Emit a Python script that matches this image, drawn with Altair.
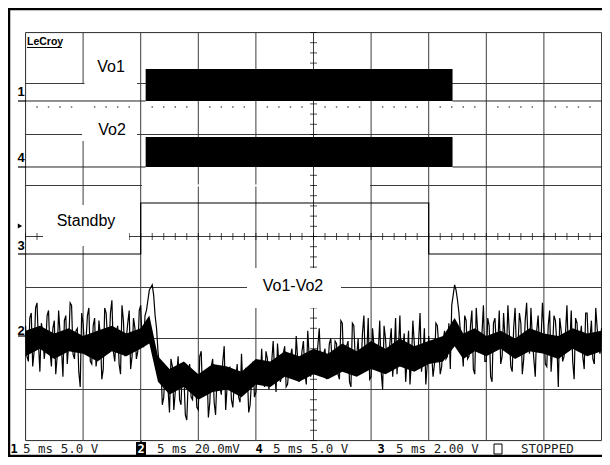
import altair as alt
import pandas as pd
import numpy as np

# ---------------- data ----------------
time_grid_ms = [-25, -20, -15, -10, -5, 0, 5, 10, 15, 20, 25]   # 5 ms/div
div_grid = [-4, -3, -2, -1, 0, 1, 2, 3, 4]

# channel: label, number, units/div, ground offset (div)
ch_label = ["Vo1", "Vo2", "Standby", "Vo1-Vo2"]
ch_number = ["1", "4", "3", "2"]
ch_per_div = [5.0, 5.0, 2.0, 20.0]
ch_offset = [2.657, 1.363, -0.343, -1.95]

# Vo1 / Vo2 switching burst
burst_start_ms = -14.57
burst_end_ms = 12.07
vo1_amp_v = 3.14
vo2_amp_v = 2.94

# Standby logic signal
standby_t = [-25, -15, -15, 10, 10, 25]
standby_v = [0.0, 0.0, 2.0, 2.0, 0.0, 0.0]

# Vo1-Vo2 (mV): samples at t = -25 + 0.25*i
diff_mv_a = [4, -10, 9, -6, 13, -14, 2, -4, 10, -12, 6, -8, 1, -16, 8, -3, 12, -9, 3, -20,
             5, -2, 11, -11, 7, -7, 0, -13, 9, -5, 14, -10, 4, -15, 6, -1, 10, -8, 3, -6,
             12, -4,
             10, 18, 20, 8, -6,
             -10, -24, -14, -30, -12, -22, -8, -27, -16, -33, -11, -25, -18, -29, -6, -21, -13,
             -26, -9, -31, -15, -23, -4, -20, -12, -28, -17, -24, -7, -19, -14, -27, -10, -22, -16,
             -5, -20, -9, -17, -2, -22, -11, -15, -4, -19, -8, -13, 0, -18, -6, -14, 2, -16, -9,
             -11, 3, -15, -5, -12, -1,
             -13, -3, -17, 5, -10, -2, -20, 4, -8, -14, 1, -11, 7, -16, -4, -9, 6, -21, -1, -12,
             3, -7, -15, 8, -5, -18, 2, -10, -3, -13, 9, -8, -19, 0, -6, -11, 4, -15, -2, -9, 5,
             12, 20, 14, 2,
             -12, 6, -8, 10, -15, 2, -5, 12, -10, 4, -18, 7, -3, -11, 9, -6, 1, -14, 11, -4, 5,
             -9, 13, -7, -1, -16, 8, -2, 3, -12, 10, -5, 6, -20, 2, -8, 12, -3, -10, 7, -6, 4,
             -13, 9, -1, -9, 11, -4, 3]
# Vo1-Vo2 (mV): samples at t = -24.875 + 0.25*j
diff_mv_b = [-8, 7, -12, 11, -3, 5, -9, 8, -6, 3, -15, 10, -5, 6, -11, 13, -7, 2, -14, 9,
             -4, 8, -10, 4, -12, 6, -17, 11, -2, 9, -6, 1, -11, 12, -8, 5, -13, 7, -9, 10,
             -3, 8,
             14, 19, 16, 3, -12,
             -27, -13, -21, -9, -29, -15, -25, -11, -31, -18, -24, -14, -28, -8, -23, -17, -32,
             -12, -26, -16, -20, -10, -29, -14, -25, -18, -11, -26, -21, -13, -30, -17, -24, -12, -19,
             -17, -6, -21, -10, -14, -3, -18, -7, -20, -12, -5, -16, -9, -13, -2, -19, -8, -10, -15,
             -4, -12, -7, -17, -3, -11,
             -2, -15, 6, -12, -4, -18, 5, -9, -1, -13, 8, -7, -17, 3, -11, -6, -14, 4, -10, -3,
             -16, 7, -5, -12, 1, -9, -19, 6, -8, -2, -14, 3, -11, -7, -16, 5, -4, -12, 2, -8, -13,
             16, 18, 9, -4,
             8, -9, 4, -13, 11, -6, 1, -10, 7, -16, 5, -4, 10, -8, -1, 12, -12, 3, -7, 9,
             -15, 6, -2, 11, -9, 2, -5, 13, -11, 4, -14, 8, -3, 7, -10, 1, -6, 10, -17, 5,
             -2, -8, 9, -5, 6, -11, 3, -7]

# dense (persistence) core of the Vo1-Vo2 trace, mV
core_t_ms = [-25, -23.75, -22.5, -21.25, -20, -18.75, -17.5, -16.25, -15, -14.25,
             -13.5, -12.5, -11.25, -10, -8.75, -7.5, -6.25, -5, -3.75, -2.5,
             -1.25, 0, 1.25, 2.5, 3.75, 5, 6.25, 7.5, 8.75, 10,
             11.25, 12.25, 13, 14, 15, 16.25, 17.5, 18.75, 20, 21.25,
             22.5, 23.75, 25]
core_lo_mv = [-8, -5, -9, -6, -7, -10, -6, -8, -5, -3,
              -18, -23, -20, -25, -22, -21, -24, -19, -20, -16,
              -18, -15, -17, -14, -16, -13, -15, -12, -14, -11,
              -10, -4, -9, -6, -8, -5, -9, -6, -7, -9,
              -5, -8, -6]
core_hi_mv = [2, 4, 1, 3, 0, 2, 4, 1, 3, 8,
              -8, -13, -10, -15, -11, -12, -14, -9, -10, -6,
              -8, -5, -7, -3, -6, -2, -5, -1, -4, -2,
              0, 7, 1, 3, 0, 2, -1, 3, 1, 0,
              3, 1, 2]

status_items = ["5 ms 5.0 V", "5 ms 20.0mV", "5 ms 5.0 V", "5 ms 2.00 V", "STOPPED"]

# ---------------- layout ----------------
PAD_L, PAD_T = 17.5, 24.5
W, H = 576, 408
OX, OY = 8 + PAD_L, 8 + PAD_T          # page position of plot origin


def px(x):
    return x - OX


def py(y):
    return y - OY


xs = alt.Scale(domain=[-25, 25], nice=False, zero=False)
ys = alt.Scale(domain=[-4, 4], nice=False, zero=False)


def X(f):
    return alt.X(f, type="quantitative", scale=xs, axis=None)


def Y(f):
    return alt.Y(f, type="quantitative", scale=ys, axis=None)


one = pd.DataFrame({"a": [0]})
GRID = "#3c3c3c"
SANS = "Liberation Sans"
MONO = "DejaVu Sans Mono"


def txt(s, x, y, size=16, weight="normal", font=SANS, color="black", align="center", baseline="middle"):
    return alt.Chart(one).mark_text(text=s, fontSize=size, fontWeight=weight, font=font, color=color,
                                    align=align, baseline=baseline).encode(x=alt.value(px(x)), y=alt.value(py(y)))


def box(x1, x2, y1, y2, fill="white", stroke=None):
    kw = dict(fill=fill)
    if stroke:
        kw.update(stroke=stroke, strokeWidth=1)
    return alt.Chart(one).mark_rect(**kw).encode(x=alt.value(px(x1)), x2=alt.value(px(x2)),
                                                 y=alt.value(py(y1)), y2=alt.value(py(y2)))


def hline(x1, x2, y, w=1, color="black"):
    return alt.Chart(one).mark_rule(color=color, strokeWidth=w).encode(
        x=alt.value(px(x1)), x2=alt.value(px(x2)), y=alt.value(py(y)))


def vline(x, y1, y2, w=1, color="black"):
    return alt.Chart(one).mark_rule(color=color, strokeWidth=w).encode(
        x=alt.value(px(x)), y=alt.value(py(y1)), y2=alt.value(py(y2)))


layers = []

# outer frame
layers += [vline(9, 8, 457, 2.5), hline(8, 602, 9, 2.5), hline(8, 602, 456, 2.5)]

# graticule
layers.append(alt.Chart(pd.DataFrame({"t": time_grid_ms})).mark_rule(color=GRID, strokeWidth=1).encode(x=X("t")))
layers.append(alt.Chart(pd.DataFrame({"d": div_grid})).mark_rule(color=GRID, strokeWidth=1).encode(y=Y("d")))
# part of the upper standby grid line that the screen leaves blank
layers += [hline(142, 312.5, 185.5, 2, "white"), hline(314.5, 370, 185.5, 2, "white")]

# center cross minor ticks
tk_y = pd.DataFrame({"d": np.round(np.arange(-4, 4.001, 0.2), 2), "c": 0})
tk_x = pd.DataFrame({"t": np.arange(-25, 25.001, 1.0), "c": 0})
layers.append(alt.Chart(tk_y).mark_tick(orient="horizontal", size=7, thickness=1, color="black").encode(x=X("c"), y=Y("d")))
layers.append(alt.Chart(tk_x).mark_tick(orient="vertical", size=7, thickness=1, color="black").encode(x=X("t"), y=Y("c")))

# label background boxes
layers += [box(84.5, 137, 50, 84), box(82, 137, 84, 141), box(43, 129, 205, 246), box(247, 341, 268, 308)]

# dotted reference row under channel 1
dots = pd.DataFrame({"t": [t for t in range(-24, 25) if t % 5 != 0]})
dots["d"] = 2.539
layers.append(alt.Chart(dots).mark_square(size=2, color="#555", opacity=1).encode(x=X("t"), y=Y("d")))

# channel 1 and 4: baselines and bursts
base_rows, burst_rows = [], []
for k, amp in [(0, vo1_amp_v), (1, vo2_amp_v)]:
    off = ch_offset[k]
    for seg, (a, b) in enumerate([(-25, burst_start_ms), (burst_end_ms, 25)]):
        base_rows += [{"t": a, "y": off, "s": f"{k}-{seg}"}, {"t": b, "y": off, "s": f"{k}-{seg}"}]
    burst_rows.append({"t0": burst_start_ms, "t1": burst_end_ms, "y0": off, "y1": off + amp / ch_per_div[k]})
layers.append(alt.Chart(pd.DataFrame(base_rows)).mark_line(color="#222", strokeWidth=1).encode(x=X("t"), y=Y("y"), detail="s:N"))
layers.append(alt.Chart(pd.DataFrame(burst_rows)).mark_rect(color="black").encode(x=X("t0"), x2="t1", y=Y("y0"), y2="y1"))

# channel 3: standby
sb = pd.DataFrame({"t": standby_t, "y": [ch_offset[2] + v / ch_per_div[2] for v in standby_v], "i": range(len(standby_t))})
layers.append(alt.Chart(sb).mark_line(color="black", strokeWidth=1.2).encode(x=X("t"), y=Y("y"), order="i:Q"))

# channel 2: Vo1-Vo2 persistence core + trace (two interleaved sample sets)
core = pd.DataFrame({"t": core_t_ms,
                     "lo": [ch_offset[3] + v / ch_per_div[3] for v in core_lo_mv],
                     "hi": [ch_offset[3] + v / ch_per_div[3] for v in core_hi_mv]})
layers.append(alt.Chart(core).mark_area(color="black", opacity=1).encode(x=X("t"), y=Y("lo"), y2="hi"))
vals = []
for i, a in enumerate(diff_mv_a):
    vals.append(a)
    if i < len(diff_mv_b):
        vals.append(diff_mv_b[i])
df2 = pd.DataFrame({"t": np.linspace(-25, 25, len(vals)),
                    "y": [ch_offset[3] + v / ch_per_div[3] for v in vals]})
layers.append(alt.Chart(df2).mark_line(color="black", strokeWidth=1.2).encode(x=X("t"), y=Y("y")))

# labels
layers += [txt("Vo1", 111, 67), txt("Vo2", 112, 130), txt("Standby", 86, 221), txt("Vo1-Vo2", 293, 285.5)]
layers += [txt("LeCroy", 27, 45, size=10.5, weight="bold", align="left", baseline="alphabetic"), hline(27, 62, 47.5, 1.2)]

# left channel markers
for n, yy, ly in [("1", 92, 101), ("4", 158, 167), ("3", 246, 254), ("2", 331, 336)]:
    layers.append(txt(n, 21, yy, size=13, weight="bold"))
    layers.append(hline(18, 26, ly, 1.2))
layers.append(alt.Chart(one).mark_point(shape="triangle-right", size=25, filled=True, color="black", opacity=1)
              .encode(x=alt.value(px(20)), y=alt.value(py(226))))
layers.append(alt.Chart(one).mark_point(shape="triangle-up", size=18, filled=True, color="black", opacity=1)
              .encode(x=alt.value(px(141)), y=alt.value(py(442))))

# status bar
SY = 449
layers.append(txt("1", 14, SY, size=12, weight="bold", font=MONO))
layers.append(txt(status_items[0], 23, SY, size=12.5, font=MONO, color="#222", align="left"))
layers.append(box(136, 146, 442, 456, fill="black"))
layers.append(txt("2", 141, SY, size=12, weight="bold", font=MONO, color="white"))
layers.append(txt(status_items[1], 157, SY, size=12.5, font=MONO, color="#222", align="left"))
layers.append(txt("4", 259, SY, size=12, weight="bold", font=MONO))
layers.append(txt(status_items[2], 273, SY, size=12.5, font=MONO, color="#222", align="left"))
layers.append(txt("3", 381, SY, size=12, weight="bold", font=MONO))
layers.append(txt(status_items[3], 396, SY, size=12.5, font=MONO, color="#222", align="left"))
layers.append(box(494, 502, 444, 454, fill="white", stroke="black"))
layers.append(txt(status_items[4], 521, SY, size=12.5, font=MONO, color="#222", align="left"))

chart = alt.layer(*layers).properties(
    width=W, height=H,
    padding={"left": PAD_L, "top": PAD_T, "right": 594 - PAD_L - W, "bottom": 449 - PAD_T - H},
    autosize=alt.AutoSizeParams(type="none"),
).configure_view(stroke=None).configure(background="white")

chart.save("out.html", embed_options={"renderer": "svg", "actions": False})
